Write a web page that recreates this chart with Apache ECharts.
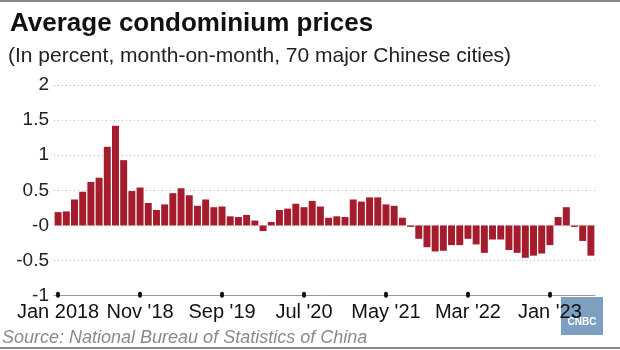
<!DOCTYPE html>
<html>
<head>
<meta charset="utf-8">
<script src="https://cdn.jsdelivr.net/npm/echarts@6/dist/echarts.min.js"></script>
<style>
  html, body { margin: 0; padding: 0; background: #fff; }
  #echarts { width: 620px; height: 350px; }
</style>
</head>
<body>
<div id="echarts"></div>
<script>
// 数据：2018年1月到2023年6月，每月一根柱子
var startYear = 2018;
var monthNames = ['Jan', 'Feb', 'Mar', 'Apr', 'May', 'Jun', 'Jul', 'Aug', 'Sep', 'Oct', 'Nov', 'Dec'];
var values = [
    0.19, 0.20, 0.37, 0.48, 0.62, 0.68, 1.12, 1.42, 0.93, 0.49, 0.54, 0.32,
    0.22, 0.30, 0.46, 0.53, 0.43, 0.28, 0.37, 0.26, 0.27, 0.13, 0.12, 0.15,
    0.07, -0.08, 0.05, 0.22, 0.24, 0.31, 0.26, 0.35, 0.27, 0.11, 0.13, 0.12,
    0.37, 0.34, 0.40, 0.40, 0.30, 0.28, 0.11, -0.02, -0.19, -0.31, -0.37, -0.36,
    -0.28, -0.28, -0.19, -0.27, -0.39, -0.20, -0.20, -0.35, -0.39, -0.46, -0.43, -0.40,
    -0.28, 0.12, 0.26, -0.02, -0.22, -0.43
];
var yTicks = [2, 1.5, 1, 0.5, 0, -0.5, -1];

// 类别：月份名称
var categories = [];
for (var i = 0; i < values.length; i++) {
    var y = startYear + Math.floor(i / 12);
    var m = monthNames[i % 12];
    categories.push(i === 0 ? m + ' ' + y : m + " '" + String(y).slice(2));
}

function echartsD(s) {
    var myChart = echarts.init(document.getElementById(s));
    var font = 'Liberation Sans, Arial, sans-serif';

    var option = {
        animation: false,
        backgroundColor: '#fff',
        textStyle: { fontFamily: font },
        grid: { left: 54, right: 25, top: 85, bottom: 54.3 },
        xAxis: {
            type: 'category',
            data: categories,
            axisLine: { show: true, onZero: false, lineStyle: { color: '#999', width: 1 } },
            axisTick: {
                show: true,
                alignWithLabel: true,
                interval: 9,
                inside: true,
                length: 2,
                lineStyle: { color: '#111', width: 4, cap: 'round' }
            },
            axisLabel: { interval: 9, color: '#111', fontSize: 20, margin: 7 }
        },
        yAxis: {
            type: 'value',
            min: -1,
            max: 2,
            interval: 0.5,
            axisLine: { show: false },
            axisTick: { show: false },
            axisLabel: {
                color: '#222',
                fontSize: 19,
                margin: 5,
                formatter: function (v) {
                    if (yTicks.indexOf(v) < 0) return '';
                    return v === 0 ? '-0' : String(v);
                }
            },
            splitLine: { lineStyle: { color: '#bbb', type: [1, 3], width: 1 } }
        },
        series: [{
            type: 'bar',
            data: values,
            barCategoryGap: '15%',
            itemStyle: { color: '#a51c2c' }
        }],
        graphic: [
            { type: 'rect', shape: { x: 0, y: 0, width: 620, height: 2 }, style: { fill: '#888' } },
            { type: 'text', left: 10, top: 11, style: { text: 'Average condominium prices', font: 'bold 26px ' + font, fill: '#111' } },
            { type: 'text', left: 8, top: 46, style: { text: '(In percent, month-on-month, 70 major Chinese cities)', font: '21px ' + font, fill: '#222' } },
            { type: 'text', left: 2, top: 329, style: { text: 'Source: National Bureau of Statistics of China', font: 'italic 18px ' + font, fill: '#8a8a8a' } },
            { type: 'rect', shape: { x: 0, y: 347, width: 620, height: 2 }, style: { fill: '#888' } },
            { type: 'rect', shape: { x: 561, y: 297, width: 42, height: 38 }, style: { fill: '#7d9fc2' } },
            { type: 'text', x: 582, y: 322, style: { text: 'CNBC', font: 'bold 10px ' + font, fill: '#fff', align: 'center', verticalAlign: 'middle' } }
        ]
    };

    myChart.setOption(option);
}

echartsD('echarts');
</script>
</body>
</html>
